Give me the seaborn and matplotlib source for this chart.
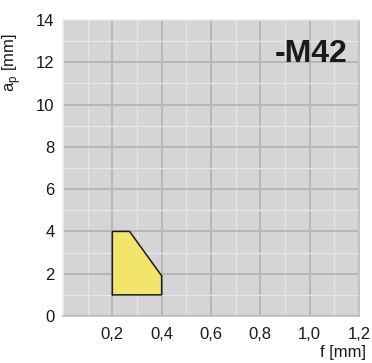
import numpy as np
import pandas as pd
import matplotlib
matplotlib.use("Agg")
import matplotlib.pyplot as plt
import seaborn as sns
from matplotlib.ticker import MultipleLocator, FixedLocator, FixedFormatter

# chart data (working area of the -M42 chipbreaker)
feedVals = [0.2, 0.2, 0.27, 0.4, 0.4]
depthVals = [1.0, 4.0, 4.0, 1.9, 1.0]
xTicks = [0.2, 0.4, 0.6, 0.8, 1.0, 1.2]
xTickLabels = ["0,2", "0,4", "0,6", "0,8", "1,0", "1,2"]
yTicks = [0, 2, 4, 6, 8, 10, 12, 14]
label = "-M42"

sns.set_theme(style="white", rc={"axes.facecolor": "#d5d5d7"})
plt.rcParams["font.family"] = ["Liberation Sans", "DejaVu Sans"]

fig = plt.figure(figsize=(3.72, 3.63), dpi=100)
ax = fig.add_axes([63 / 372, 47 / 363, 296 / 372, 296 / 363])

# closed outline of the application area
area = pd.DataFrame({"f": feedVals + [feedVals[0]], "ap": depthVals + [depthVals[0]]})
ax.fill(area["f"], area["ap"], facecolor="#f3e46c", edgecolor="none", zorder=3)
sns.lineplot(data=area, x="f", y="ap", estimator=None, sort=False,
             color="#1a1a1a", lw=1.1, ax=ax, zorder=4, solid_joinstyle="round")

ax.set_xlim(0, 1.2)
ax.set_ylim(0, 14)

# grid: light minor lines, darker major lines
ax.xaxis.set_minor_locator(MultipleLocator(0.1))
ax.yaxis.set_minor_locator(MultipleLocator(1))
ax.grid(which="minor", color="#e6e6e8", lw=0.9, zorder=0)
ax.grid(which="major", color="#b6b6b8", lw=1.4, zorder=0)
ax.set_axisbelow(True)

ax.xaxis.set_major_locator(FixedLocator(xTicks))
ax.xaxis.set_major_formatter(FixedFormatter(xTickLabels))
ax.set_yticks(yTicks)
ax.tick_params(axis="both", which="both", length=0, labelsize=12, colors="#1a1a1a")
ax.tick_params(axis="x", pad=8)
ax.tick_params(axis="y", pad=6)

for side in ["top", "left"]:
    ax.spines[side].set_color("#ececee")
for side in ["bottom", "right"]:
    ax.spines[side].set_color("#bdbdbf")
for s in ax.spines.values():
    s.set_linewidth(1.2)

ax.set_xlabel("f [mm]", fontsize=12, color="#1a1a1a")
ax.xaxis.set_label_coords(0.946, -0.098)
ax.set_ylabel(r"a$_\mathregular{p}$ [mm]", fontsize=12, color="#1a1a1a")
ax.yaxis.set_label_coords(-0.135, 0.855)

ax.text(0.962, 0.885, label, transform=ax.transAxes, ha="right", va="center",
        fontsize=23, fontweight="bold", color="#1a1a1a")

fig.savefig("out.png", dpi=100)
